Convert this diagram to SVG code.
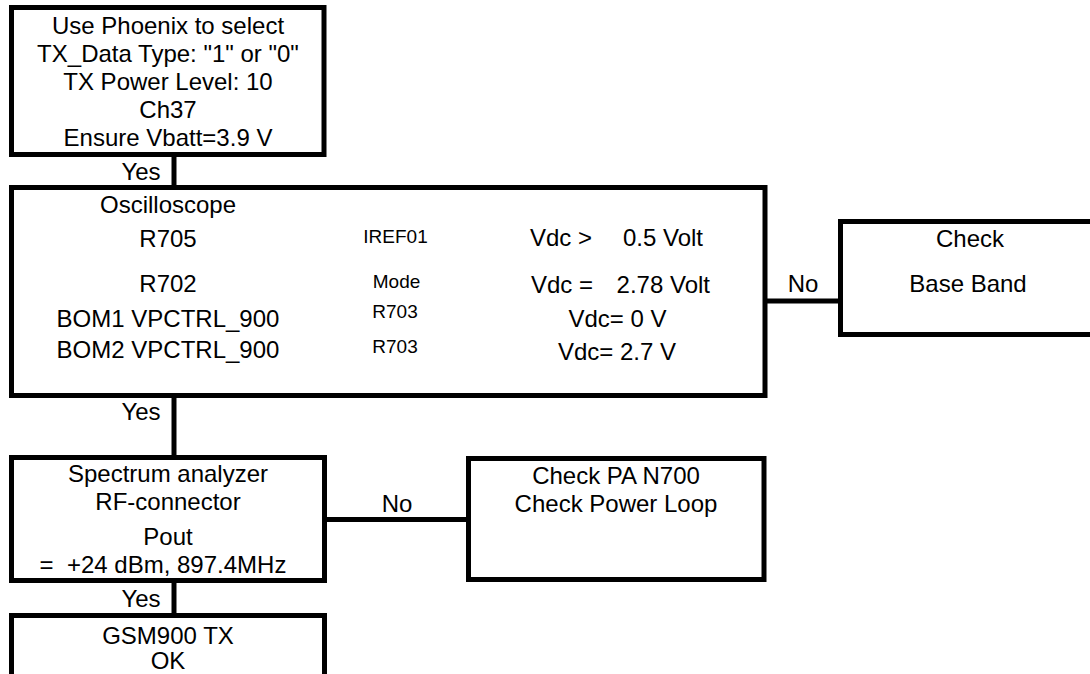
<svg xmlns="http://www.w3.org/2000/svg" width="1090" height="674" viewBox="0 0 1090 674">
<style>
.box{fill:#fff;stroke:#000;stroke-width:5}
.ln{fill:none;stroke:#000;stroke-width:5}
text{font-family:"Liberation Sans",Arial,sans-serif;font-size:24px;fill:#000}
.c{text-anchor:middle}
.s{font-size:19px}
</style>
<rect width="1090" height="674" fill="#fff"/>
<g id="connectors">
<line class="ln" x1="174" y1="154" x2="174" y2="188"/>
<line class="ln" x1="174" y1="395" x2="174" y2="458"/>
<line class="ln" x1="174" y1="580" x2="174" y2="616"/>
<line class="ln" x1="765" y1="301" x2="841" y2="301"/>
<line class="ln" x1="324" y1="519.5" x2="469" y2="519.5"/>
<text x="141" y="180" class="c">Yes</text>
<text x="141" y="420" class="c">Yes</text>
<text x="141" y="607" class="c">Yes</text>
<text x="803" y="292" class="c">No</text>
<text x="397" y="512" class="c">No</text>
</g>
<g id="start">
<rect class="box" x="11.5" y="7.5" width="312.5" height="147"/>
<text x="168" y="33.5" class="c">Use Phoenix to select</text>
<text x="168" y="61.5" class="c">TX_Data Type: "1" or "0"</text>
<text x="168" y="90" class="c">TX Power Level: 10</text>
<text x="168" y="118" class="c">Ch37</text>
<text x="168" y="145.5" class="c">Ensure Vbatt=3.9 V</text>
</g>
<g id="oscilloscope">
<rect class="box" x="11.5" y="187.5" width="753.5" height="208"/>
<text x="168" y="213" class="c">Oscilloscope</text>
<text x="168" y="247" class="c">R705</text>
<text x="168" y="292" class="c">R702</text>
<text x="168" y="327" class="c">BOM1 VPCTRL_900</text>
<text x="168" y="358" class="c">BOM2 VPCTRL_900</text>
<text x="395.5" y="243" class="c s">IREF01</text>
<text x="396.5" y="288" class="c s">Mode</text>
<text x="395" y="318" class="c s">R703</text>
<text x="395" y="353" class="c s">R703</text>
<text x="530" y="246">Vdc &gt;</text>
<text x="703" y="246" text-anchor="end">0.5 Volt</text>
<text x="531" y="292.5">Vdc =</text>
<text x="710" y="292.5" text-anchor="end">2.78 Volt</text>
<text x="617.5" y="327" class="c">Vdc= 0 V</text>
<text x="617" y="360" class="c">Vdc= 2.7 V</text>
</g>
<g id="baseband">
<rect class="box" x="840.5" y="221.5" width="260" height="113"/>
<text x="970" y="247" class="c">Check</text>
<text x="968" y="292" class="c">Base Band</text>
</g>
<g id="spectrum">
<rect class="box" x="11.5" y="457.5" width="313" height="123"/>
<text x="168" y="481.5" class="c">Spectrum analyzer</text>
<text x="168" y="510" class="c">RF-connector</text>
<text x="168" y="545" class="c">Pout</text>
<text x="163" y="573" class="c">= &#160;+24 dBm, 897.4MHz</text>
</g>
<g id="checkpa">
<rect class="box" x="468.5" y="458.5" width="295.5" height="121"/>
<text x="616" y="483.5" class="c">Check PA N700</text>
<text x="616" y="511.5" class="c">Check Power Loop</text>
</g>
<g id="ok">
<rect class="box" x="11.5" y="615.5" width="313" height="70"/>
<text x="168" y="644" class="c">GSM900 TX</text>
<text x="168" y="669" class="c">OK</text>
</g>
</svg>
